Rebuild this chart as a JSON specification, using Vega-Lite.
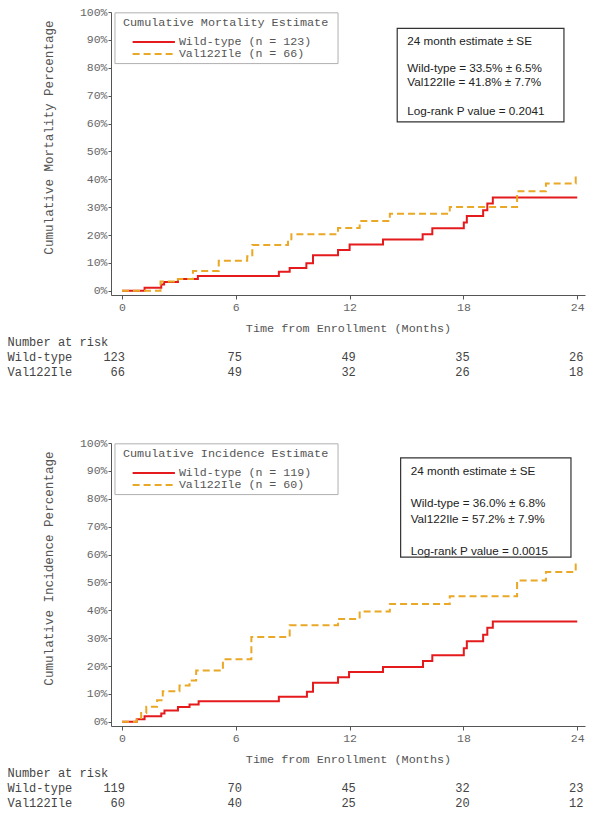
{
  "$schema": "https://vega.github.io/schema/vega-lite/v6.json",
  "padding": {"left": 7, "top": 6, "right": 5, "bottom": 5},
  "spacing": 57,
  "config": {
    "view": {"stroke": null},
    "font": "Liberation Mono",
    "axis": {
      "domainColor": "#555",
      "tickColor": "#555",
      "labelColor": "#666",
      "titleColor": "#555",
      "labelFont": "Liberation Mono",
      "titleFont": "Liberation Mono",
      "labelFontSize": 11.5,
      "titleFontSize": 12,
      "titleFontWeight": "normal",
      "grid": false
    }
  },
  "datasets": {
    "one": [{}],
    "mort": [
      {"group": "Wild-type", "t": 0, "pct": 0},
      {"group": "Wild-type", "t": 1.19, "pct": 1.1},
      {"group": "Wild-type", "t": 2.07, "pct": 2.3},
      {"group": "Wild-type", "t": 2.22, "pct": 3.2},
      {"group": "Wild-type", "t": 2.95, "pct": 4.2},
      {"group": "Wild-type", "t": 4.0, "pct": 5.3},
      {"group": "Wild-type", "t": 8.27, "pct": 6.8},
      {"group": "Wild-type", "t": 8.84, "pct": 8.2},
      {"group": "Wild-type", "t": 9.72, "pct": 9.9},
      {"group": "Wild-type", "t": 10.07, "pct": 12.8},
      {"group": "Wild-type", "t": 11.39, "pct": 14.6},
      {"group": "Wild-type", "t": 12.0, "pct": 16.6},
      {"group": "Wild-type", "t": 13.76, "pct": 18.4},
      {"group": "Wild-type", "t": 15.85, "pct": 20.3},
      {"group": "Wild-type", "t": 16.36, "pct": 22.4},
      {"group": "Wild-type", "t": 18.02, "pct": 24.5},
      {"group": "Wild-type", "t": 18.18, "pct": 26.8},
      {"group": "Wild-type", "t": 19.04, "pct": 28.9},
      {"group": "Wild-type", "t": 19.26, "pct": 31.3},
      {"group": "Wild-type", "t": 19.55, "pct": 33.5},
      {"group": "Wild-type", "t": 24.0, "pct": 33.5},
      {"group": "Val122Ile", "t": 0, "pct": 0},
      {"group": "Val122Ile", "t": 2.03, "pct": 3.3},
      {"group": "Val122Ile", "t": 2.95, "pct": 4.2},
      {"group": "Val122Ile", "t": 3.74, "pct": 7.1},
      {"group": "Val122Ile", "t": 5.1, "pct": 10.8},
      {"group": "Val122Ile", "t": 6.6, "pct": 12.4},
      {"group": "Val122Ile", "t": 6.87, "pct": 16.4},
      {"group": "Val122Ile", "t": 8.75, "pct": 18.5},
      {"group": "Val122Ile", "t": 8.93, "pct": 20.3},
      {"group": "Val122Ile", "t": 11.39, "pct": 22.5},
      {"group": "Val122Ile", "t": 12.53, "pct": 25.0},
      {"group": "Val122Ile", "t": 14.12, "pct": 27.6},
      {"group": "Val122Ile", "t": 17.28, "pct": 30.1},
      {"group": "Val122Ile", "t": 20.83, "pct": 35.7},
      {"group": "Val122Ile", "t": 22.35, "pct": 38.5},
      {"group": "Val122Ile", "t": 23.92, "pct": 41.8},
      {"group": "Val122Ile", "t": 24.0, "pct": 41.8}
    ],
    "inc": [
      {"group": "Wild-type", "t": 0, "pct": 0},
      {"group": "Wild-type", "t": 0.78, "pct": 0.9},
      {"group": "Wild-type", "t": 1.19, "pct": 2.0},
      {"group": "Wild-type", "t": 2.07, "pct": 3.0},
      {"group": "Wild-type", "t": 2.24, "pct": 4.1},
      {"group": "Wild-type", "t": 2.95, "pct": 5.3},
      {"group": "Wild-type", "t": 3.56, "pct": 6.2},
      {"group": "Wild-type", "t": 4.04, "pct": 7.4},
      {"group": "Wild-type", "t": 8.27, "pct": 9.0},
      {"group": "Wild-type", "t": 9.75, "pct": 10.8},
      {"group": "Wild-type", "t": 10.07, "pct": 14.0},
      {"group": "Wild-type", "t": 11.39, "pct": 16.0},
      {"group": "Wild-type", "t": 11.97, "pct": 17.9},
      {"group": "Wild-type", "t": 13.76, "pct": 19.7},
      {"group": "Wild-type", "t": 15.87, "pct": 21.8},
      {"group": "Wild-type", "t": 16.36, "pct": 23.9},
      {"group": "Wild-type", "t": 18.02, "pct": 26.4},
      {"group": "Wild-type", "t": 18.18, "pct": 28.9},
      {"group": "Wild-type", "t": 19.04, "pct": 31.2},
      {"group": "Wild-type", "t": 19.26, "pct": 33.7},
      {"group": "Wild-type", "t": 19.55, "pct": 36.0},
      {"group": "Wild-type", "t": 24.0, "pct": 36.0},
      {"group": "Val122Ile", "t": 0, "pct": 0},
      {"group": "Val122Ile", "t": 0.78, "pct": 1.4},
      {"group": "Val122Ile", "t": 1.01, "pct": 3.2},
      {"group": "Val122Ile", "t": 1.28, "pct": 5.4},
      {"group": "Val122Ile", "t": 1.85, "pct": 7.7},
      {"group": "Val122Ile", "t": 2.15, "pct": 11.0},
      {"group": "Val122Ile", "t": 3.03, "pct": 13.0},
      {"group": "Val122Ile", "t": 3.56, "pct": 14.8},
      {"group": "Val122Ile", "t": 3.91, "pct": 18.4},
      {"group": "Val122Ile", "t": 5.32, "pct": 22.4},
      {"group": "Val122Ile", "t": 6.82, "pct": 30.4},
      {"group": "Val122Ile", "t": 8.84, "pct": 34.6},
      {"group": "Val122Ile", "t": 11.39, "pct": 36.9},
      {"group": "Val122Ile", "t": 12.53, "pct": 39.6},
      {"group": "Val122Ile", "t": 14.12, "pct": 42.3},
      {"group": "Val122Ile", "t": 17.28, "pct": 45.0},
      {"group": "Val122Ile", "t": 20.83, "pct": 50.7},
      {"group": "Val122Ile", "t": 22.35, "pct": 53.7},
      {"group": "Val122Ile", "t": 23.92, "pct": 57.2},
      {"group": "Val122Ile", "t": 24.0, "pct": 57.2}
    ],
    "risk_mort": [
      {"group": "Wild-type", "t": 0, "n": 123},
      {"group": "Wild-type", "t": 6, "n": 75},
      {"group": "Wild-type", "t": 12, "n": 49},
      {"group": "Wild-type", "t": 18, "n": 35},
      {"group": "Wild-type", "t": 24, "n": 26},
      {"group": "Val122Ile", "t": 0, "n": 66},
      {"group": "Val122Ile", "t": 6, "n": 49},
      {"group": "Val122Ile", "t": 12, "n": 32},
      {"group": "Val122Ile", "t": 18, "n": 26},
      {"group": "Val122Ile", "t": 24, "n": 18}
    ],
    "risk_inc": [
      {"group": "Wild-type", "t": 0, "n": 119},
      {"group": "Wild-type", "t": 6, "n": 70},
      {"group": "Wild-type", "t": 12, "n": 45},
      {"group": "Wild-type", "t": 18, "n": 32},
      {"group": "Wild-type", "t": 24, "n": 23},
      {"group": "Val122Ile", "t": 0, "n": 60},
      {"group": "Val122Ile", "t": 6, "n": 40},
      {"group": "Val122Ile", "t": 12, "n": 25},
      {"group": "Val122Ile", "t": 18, "n": 20},
      {"group": "Val122Ile", "t": 24, "n": 12}
    ]
  },
  "vconcat": [
    {
      "spacing": 0,
      "vconcat": [
        {
          "width": 474,
          "height": 283,
          "layer": [
            {
              "data": {"name": "mort"},
              "mark": {"type": "line", "interpolate": "step-after", "strokeWidth": 2},
              "encoding": {
                "x": {"field": "t", "type": "quantitative",
                  "scale": {"domain": [-0.58, 24.41], "nice": false, "zero": false},
                  "axis": {"values": [0, 6, 12, 18, 24], "title": "Time from Enrollment (Months)", "titleFontSize": 11.8, "tickSize": 4, "labelPadding": 2, "titlePadding": 9.5}},
                "y": {"field": "pct", "type": "quantitative",
                  "scale": {"domain": [-1.5, 100], "nice": false, "zero": false},
                  "axis": {"values": [0, 10, 20, 30, 40, 50, 60, 70, 80, 90, 100], "tickCount": 11, "labelOverlap": false, "labelExpr": "datum.value + '%'", "title": "Cumulative Mortality Percentage", "titleFontSize": 12.6, "titleY": 125, "tickSize": 3, "labelPadding": 1, "titlePadding": 24}},
                "stroke": {"field": "group", "type": "nominal", "scale": {"domain": ["Wild-type", "Val122Ile"], "range": ["#e41a1c", "#e9a825"]}, "legend": null},
                "strokeDash": {"field": "group", "type": "nominal", "scale": {"domain": ["Wild-type", "Val122Ile"], "range": [[1, 0], [7, 4]]}, "legend": null}
              }
            },
            {
              "data": {"name": "one"},
              "mark": {"type": "rect", "fill": "white", "stroke": "#b0b0b0", "strokeWidth": 1},
              "encoding": {
                "x": {"datum": -0.37, "type": "quantitative"},
                "x2": {"datum": 11.39},
                "y": {"datum": 99.7, "type": "quantitative"},
                "y2": {"datum": 81.5}
              }
            },
            {
              "data": {"name": "one"},
              "mark": {"type": "text", "text": "Cumulative Mortality Estimate", "align": "left", "baseline": "middle", "font": "Liberation Mono", "fontSize": 11.8, "color": "#555"},
              "encoding": {
                "x": {"datum": 0.05, "type": "quantitative"},
                "y": {"datum": 96.4, "type": "quantitative"}
              }
            },
            {
              "data": {"name": "one"},
              "mark": {"type": "rule", "strokeWidth": 2},
              "encoding": {
                "x": {"datum": 0.56, "type": "quantitative"},
                "x2": {"datum": 2.79},
                "y": {"datum": 89.2, "type": "quantitative"},
                "stroke": {"datum": "Wild-type", "type": "nominal"},
                "strokeDash": {"datum": "Wild-type", "type": "nominal"}
              }
            },
            {
              "data": {"name": "one"},
              "mark": {"type": "rule", "strokeWidth": 2},
              "encoding": {
                "x": {"datum": 0.56, "type": "quantitative"},
                "x2": {"datum": 2.79},
                "y": {"datum": 84.9, "type": "quantitative"},
                "stroke": {"datum": "Val122Ile", "type": "nominal"},
                "strokeDash": {"datum": "Val122Ile", "type": "nominal"}
              }
            },
            {
              "data": {"name": "one"},
              "mark": {"type": "text", "text": "Wild-type (n = 123)", "align": "left", "baseline": "middle", "font": "Liberation Mono", "fontSize": 11.6, "color": "#555"},
              "encoding": {
                "x": {"datum": 3.0, "type": "quantitative"},
                "y": {"datum": 89.2, "type": "quantitative"}
              }
            },
            {
              "data": {"name": "one"},
              "mark": {"type": "text", "text": "Val122Ile (n = 66)", "align": "left", "baseline": "middle", "font": "Liberation Mono", "fontSize": 11.6, "color": "#555"},
              "encoding": {
                "x": {"datum": 3.0, "type": "quantitative"},
                "y": {"datum": 84.9, "type": "quantitative"}
              }
            },
            {
              "data": {"name": "one"},
              "mark": {"type": "rect", "fill": "white", "stroke": "#333", "strokeWidth": 1.2},
              "encoding": {
                "x": {"datum": 14.51, "type": "quantitative"},
                "x2": {"datum": 23.3},
                "y": {"datum": 94.1, "type": "quantitative"},
                "y2": {"datum": 60.6}
              }
            },
            {
              "data": {"name": "one"},
              "mark": {"type": "text", "text": "24 month estimate ± SE", "align": "left", "baseline": "middle", "font": "Liberation Sans", "fontSize": 11.7, "color": "#222"},
              "encoding": {
                "x": {"datum": 15.04, "type": "quantitative"},
                "y": {"datum": 89.67, "type": "quantitative"}
              }
            },
            {
              "data": {"name": "one"},
              "mark": {"type": "text", "text": "Wild-type = 33.5% ± 6.5%", "align": "left", "baseline": "middle", "font": "Liberation Sans", "fontSize": 11.7, "color": "#222"},
              "encoding": {
                "x": {"datum": 15.04, "type": "quantitative"},
                "y": {"datum": 79.77, "type": "quantitative"}
              }
            },
            {
              "data": {"name": "one"},
              "mark": {"type": "text", "text": "Val122Ile = 41.8% ± 7.7%", "align": "left", "baseline": "middle", "font": "Liberation Sans", "fontSize": 11.7, "color": "#222"},
              "encoding": {
                "x": {"datum": 15.04, "type": "quantitative"},
                "y": {"datum": 74.75, "type": "quantitative"}
              }
            },
            {
              "data": {"name": "one"},
              "mark": {"type": "text", "text": "Log-rank P value = 0.2041", "align": "left", "baseline": "middle", "font": "Liberation Sans", "fontSize": 11.7, "color": "#222"},
              "encoding": {
                "x": {"datum": 15.04, "type": "quantitative"},
                "y": {"datum": 64.56, "type": "quantitative"}
              }
            }
          ]
        },
        {
          "width": 474,
          "height": 45.5,
          "data": {"name": "risk_mort"},
          "encoding": {
            "x": {"field": "t", "type": "quantitative", "scale": {"domain": [-0.58, 24.41], "nice": false, "zero": false}, "axis": null},
            "y": {"field": "group", "type": "ordinal", "scale": {"domain": ["Number at risk", "Wild-type", "Val122Ile"], "padding": 0.5},
              "axis": {"title": null, "domain": false, "ticks": false, "labelAlign": "left", "labelPadding": 104, "labelFontSize": 12, "labelColor": "#444"}},
            "text": {"field": "n", "type": "quantitative"}
          },
          "layer": [
            {
              "transform": [{"filter": "datum.t == 0"}],
              "mark": {"type": "text", "align": "right", "dx": 3, "baseline": "middle", "font": "Liberation Mono", "fontSize": 12, "color": "#444"}
            },
            {
              "transform": [{"filter": "datum.t > 0"}],
              "mark": {"type": "text", "align": "center", "dx": -1, "baseline": "middle", "font": "Liberation Mono", "fontSize": 12, "color": "#444"}
            }
          ]
        }
      ]
    },
    {
      "spacing": 0,
      "vconcat": [
        {
          "width": 474,
          "height": 283,
          "layer": [
            {
              "data": {"name": "inc"},
              "mark": {"type": "line", "interpolate": "step-after", "strokeWidth": 2},
              "encoding": {
                "x": {"field": "t", "type": "quantitative",
                  "scale": {"domain": [-0.58, 24.41], "nice": false, "zero": false},
                  "axis": {"values": [0, 6, 12, 18, 24], "title": "Time from Enrollment (Months)", "titleFontSize": 11.8, "tickSize": 4, "labelPadding": 2, "titlePadding": 9.5}},
                "y": {"field": "pct", "type": "quantitative",
                  "scale": {"domain": [-1.5, 100], "nice": false, "zero": false},
                  "axis": {"values": [0, 10, 20, 30, 40, 50, 60, 70, 80, 90, 100], "tickCount": 11, "labelOverlap": false, "labelExpr": "datum.value + '%'", "title": "Cumulative Incidence Percentage", "titleFontSize": 12.6, "titleY": 125, "tickSize": 3, "labelPadding": 1, "titlePadding": 24}},
                "stroke": {"field": "group", "type": "nominal", "scale": {"domain": ["Wild-type", "Val122Ile"], "range": ["#e41a1c", "#e9a825"]}, "legend": null},
                "strokeDash": {"field": "group", "type": "nominal", "scale": {"domain": ["Wild-type", "Val122Ile"], "range": [[1, 0], [7, 4]]}, "legend": null}
              }
            },
            {
              "data": {"name": "one"},
              "mark": {"type": "rect", "fill": "white", "stroke": "#b0b0b0", "strokeWidth": 1},
              "encoding": {
                "x": {"datum": -0.37, "type": "quantitative"},
                "x2": {"datum": 11.39},
                "y": {"datum": 99.7, "type": "quantitative"},
                "y2": {"datum": 81.5}
              }
            },
            {
              "data": {"name": "one"},
              "mark": {"type": "text", "text": "Cumulative Incidence Estimate", "align": "left", "baseline": "middle", "font": "Liberation Mono", "fontSize": 11.8, "color": "#555"},
              "encoding": {
                "x": {"datum": 0.05, "type": "quantitative"},
                "y": {"datum": 96.4, "type": "quantitative"}
              }
            },
            {
              "data": {"name": "one"},
              "mark": {"type": "rule", "strokeWidth": 2},
              "encoding": {
                "x": {"datum": 0.56, "type": "quantitative"},
                "x2": {"datum": 2.79},
                "y": {"datum": 89.2, "type": "quantitative"},
                "stroke": {"datum": "Wild-type", "type": "nominal"},
                "strokeDash": {"datum": "Wild-type", "type": "nominal"}
              }
            },
            {
              "data": {"name": "one"},
              "mark": {"type": "rule", "strokeWidth": 2},
              "encoding": {
                "x": {"datum": 0.56, "type": "quantitative"},
                "x2": {"datum": 2.79},
                "y": {"datum": 84.9, "type": "quantitative"},
                "stroke": {"datum": "Val122Ile", "type": "nominal"},
                "strokeDash": {"datum": "Val122Ile", "type": "nominal"}
              }
            },
            {
              "data": {"name": "one"},
              "mark": {"type": "text", "text": "Wild-type (n = 119)", "align": "left", "baseline": "middle", "font": "Liberation Mono", "fontSize": 11.6, "color": "#555"},
              "encoding": {
                "x": {"datum": 3.0, "type": "quantitative"},
                "y": {"datum": 89.2, "type": "quantitative"}
              }
            },
            {
              "data": {"name": "one"},
              "mark": {"type": "text", "text": "Val122Ile (n = 60)", "align": "left", "baseline": "middle", "font": "Liberation Mono", "fontSize": 11.6, "color": "#555"},
              "encoding": {
                "x": {"datum": 3.0, "type": "quantitative"},
                "y": {"datum": 84.9, "type": "quantitative"}
              }
            },
            {
              "data": {"name": "one"},
              "mark": {"type": "rect", "fill": "white", "stroke": "#333", "strokeWidth": 1.2},
              "encoding": {
                "x": {"datum": 14.69, "type": "quantitative"},
                "x2": {"datum": 23.67},
                "y": {"datum": 94.7, "type": "quantitative"},
                "y2": {"datum": 59.1}
              }
            },
            {
              "data": {"name": "one"},
              "mark": {"type": "text", "text": "24 month estimate ± SE", "align": "left", "baseline": "middle", "font": "Liberation Sans", "fontSize": 11.7, "color": "#222"},
              "encoding": {
                "x": {"datum": 15.22, "type": "quantitative"},
                "y": {"datum": 89.92, "type": "quantitative"}
              }
            },
            {
              "data": {"name": "one"},
              "mark": {"type": "text", "text": "Wild-type = 36.0% ± 6.8%", "align": "left", "baseline": "middle", "font": "Liberation Sans", "fontSize": 11.7, "color": "#222"},
              "encoding": {
                "x": {"datum": 15.22, "type": "quantitative"},
                "y": {"datum": 78.34, "type": "quantitative"}
              }
            },
            {
              "data": {"name": "one"},
              "mark": {"type": "text", "text": "Val122Ile = 57.2% ± 7.9%", "align": "left", "baseline": "middle", "font": "Liberation Sans", "fontSize": 11.7, "color": "#222"},
              "encoding": {
                "x": {"datum": 15.22, "type": "quantitative"},
                "y": {"datum": 72.81, "type": "quantitative"}
              }
            },
            {
              "data": {"name": "one"},
              "mark": {"type": "text", "text": "Log-rank P value = 0.0015", "align": "left", "baseline": "middle", "font": "Liberation Sans", "fontSize": 11.7, "color": "#222"},
              "encoding": {
                "x": {"datum": 15.22, "type": "quantitative"},
                "y": {"datum": 61.23, "type": "quantitative"}
              }
            }
          ]
        },
        {
          "width": 474,
          "height": 45.5,
          "data": {"name": "risk_inc"},
          "encoding": {
            "x": {"field": "t", "type": "quantitative", "scale": {"domain": [-0.58, 24.41], "nice": false, "zero": false}, "axis": null},
            "y": {"field": "group", "type": "ordinal", "scale": {"domain": ["Number at risk", "Wild-type", "Val122Ile"], "padding": 0.5},
              "axis": {"title": null, "domain": false, "ticks": false, "labelAlign": "left", "labelPadding": 104, "labelFontSize": 12, "labelColor": "#444"}},
            "text": {"field": "n", "type": "quantitative"}
          },
          "layer": [
            {
              "transform": [{"filter": "datum.t == 0"}],
              "mark": {"type": "text", "align": "right", "dx": 3, "baseline": "middle", "font": "Liberation Mono", "fontSize": 12, "color": "#444"}
            },
            {
              "transform": [{"filter": "datum.t > 0"}],
              "mark": {"type": "text", "align": "center", "dx": -1, "baseline": "middle", "font": "Liberation Mono", "fontSize": 12, "color": "#444"}
            }
          ]
        }
      ]
    }
  ]
}
